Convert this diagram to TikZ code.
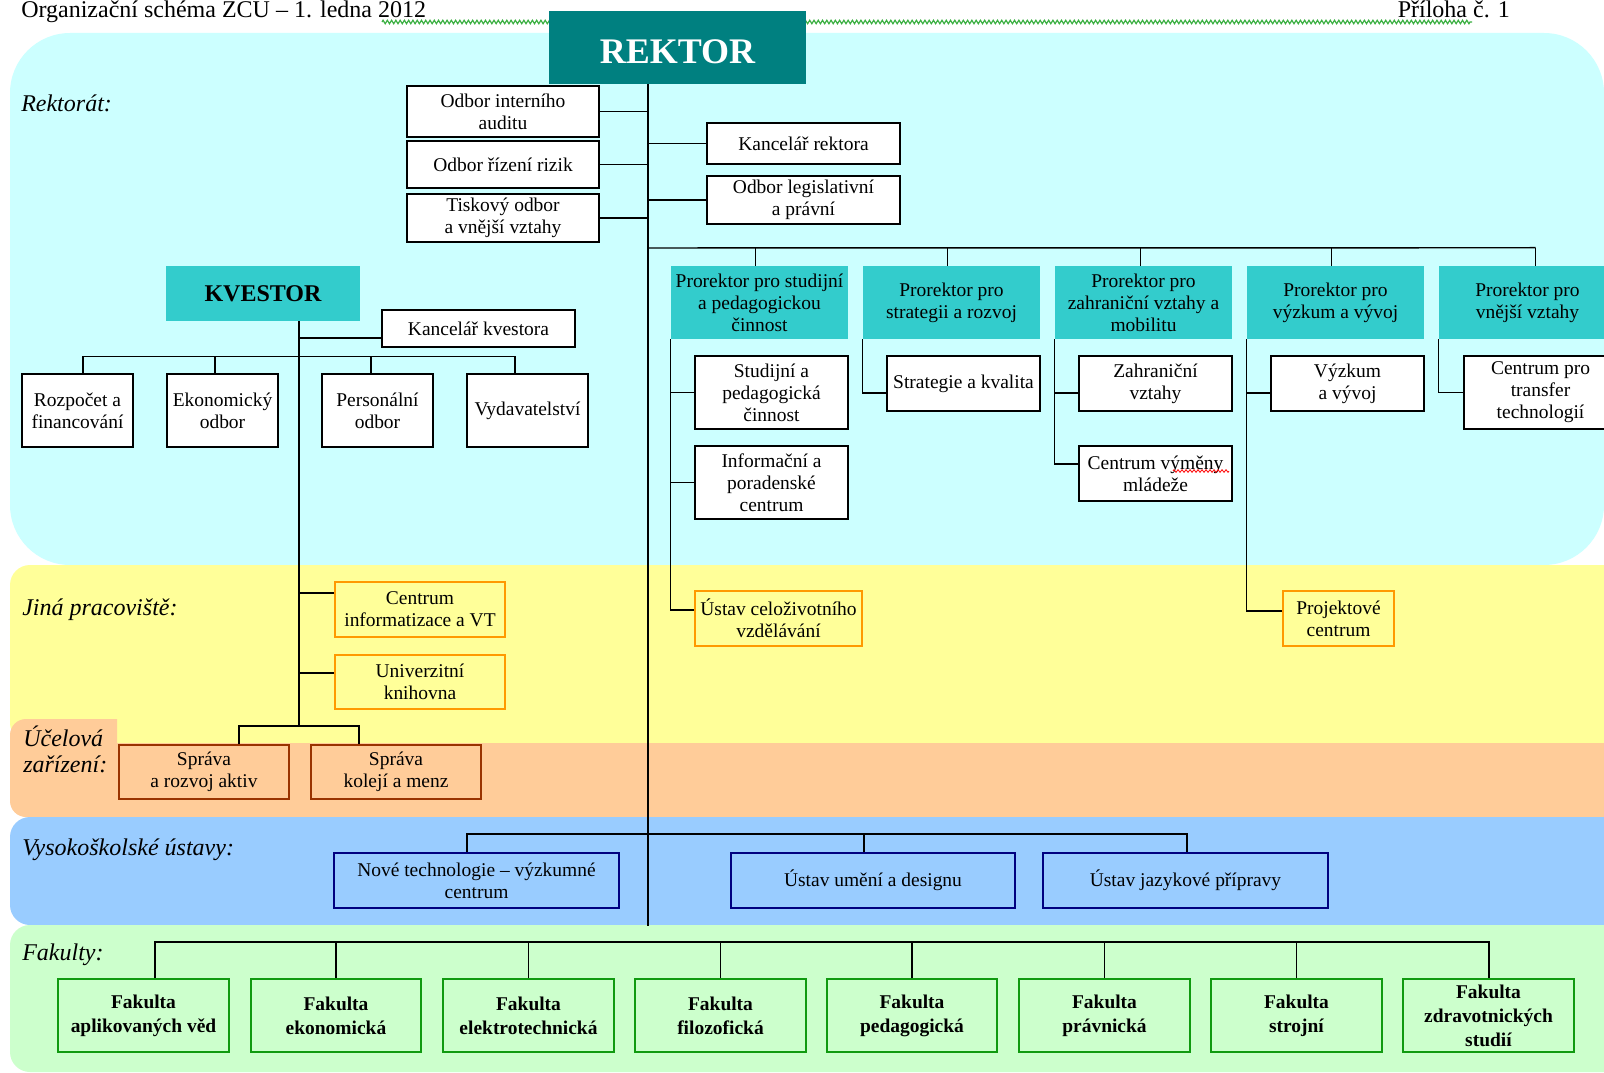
\documentclass[tikz,border=0pt]{standalone}
\usepackage{fontspec}
\setmainfont{Liberation Serif}
\usetikzlibrary{calc,decorations.pathmorphing}
\definecolor{bcyan}{HTML}{CCFFFF}
\definecolor{byellow}{HTML}{FFFF99}
\definecolor{borange}{HTML}{FFCC99}
\definecolor{bblue}{HTML}{99CCFF}
\definecolor{bgreen}{HTML}{CCFFCC}
\definecolor{tealA}{HTML}{008080}
\definecolor{tealB}{HTML}{33CCCC}
\definecolor{orbd}{HTML}{FF9900}
\definecolor{brbd}{HTML}{993300}
\definecolor{nvbd}{HTML}{000080}
\definecolor{grbd}{HTML}{109A10}
\definecolor{sqgreen}{HTML}{3CB043}
\newcommand\bx[7]{\node[#6, minimum width={(#4-#2)*0.75pt}, minimum height={(#5-#3)*0.75pt}] (#1) at ({(#2+#4)/2},{(#3+#5)/2}) {#7};}
\tikzset{
  bxbase/.style={inner sep=0pt, align=center, font=\fontsize{14.6}{16.5}\selectfont},
  wbox/.style={bxbase, draw=black, fill=white, line width=1.1pt},
  prbox/.style={bxbase, fill=tealB},
  kvbox/.style={inner sep=0pt, fill=tealB, font=\bfseries\fontsize{18}{20}\selectfont},
  rekbox/.style={inner sep=0pt, fill=tealA, text=white, font=\bfseries\fontsize{27}{30}\selectfont, text height=24.5pt, text depth=0pt},
  jbox/.style={bxbase, draw=orbd, fill=byellow, line width=1.3pt},
  sprbox/.style={bxbase, draw=brbd, fill=borange, line width=1.3pt},
  vsbox/.style={bxbase, draw=nvbd, fill=bblue, line width=1.3pt},
  facbox/.style={bxbase, draw=grbd, fill=bgreen, line width=1.4pt, font=\bfseries\fontsize{14.6}{18}\selectfont},
  conn/.style={line width=1.1pt, black},
  thickconn/.style={line width=1.5pt, black},
  lbl/.style={anchor=base west, inner sep=0pt, font=\itshape\fontsize{18}{19}\selectfont},
  hdr/.style={inner sep=0pt, font=\fontsize{18}{20}\selectfont},
}
\begin{document}
\begin{tikzpicture}[x=0.75pt,y=-0.75pt]
\useasboundingbox (0,0) rectangle (1604,1073);
\clip (0,0) rectangle (1604,1073);
\fill[white] (0,0) rectangle (1604,1073);
% bands
\fill[bcyan, rounded corners=45pt] (10,33) rectangle (1604,565);
\fill[byellow, rounded corners=15pt] (10,565) rectangle (1650,743);
\fill[borange, rounded corners=12pt] (10,743) rectangle (1650,817);
\fill[borange] (117,800) -- (117,719) [rounded corners=12pt] -- (10,719) [sharp corners] -- (10,800) -- cycle;
\fill[bblue, rounded corners=15pt] (10,817) rectangle (1650,925);
\fill[bgreen, rounded corners=15pt] (10,925) rectangle (1650,1072);
% header
\node[hdr, anchor=base west] (title) at (21,18) {Organizační schéma ZCU – 1. ledna 2012};
\node[hdr, anchor=base east] (priloha) at (1510,18) {Příloha č. 1};
\draw[sqgreen, line width=0.9pt, decorate, decoration={zigzag, segment length=3.2pt, amplitude=1.3pt}] (382,22) -- (1472,22);
% section labels
\node[lbl] (lrek) at (21,112) {Rektorát:};
\node[lbl] (ljina) at (22,615) {Jiná pracoviště:};
\node[lbl] (luc1) at (23,746) {Účelová};
\node[lbl] (luc2) at (23,772) {zařízení:};
\node[lbl] (lvs) at (22,855) {Vysokoškolské ústavy:};
\node[lbl] (lfak) at (22,960) {Fakulty:};
% rektor
\bx{rek}{549}{11}{806}{84}{rekbox}{REKTOR}
\bx{audit}{407}{86}{599}{137}{wbox}{Odbor interního\\auditu}
\bx{rizik}{407}{141}{599}{188}{wbox}{Odbor řízení rizik}
\bx{tisk}{407}{194}{599}{242}{wbox}{Tiskový odbor\\a vnější vztahy}
\bx{kancr}{707}{123}{900}{164}{wbox}{Kancelář rektora}
\bx{legis}{707}{176}{900}{224}{wbox}{Odbor legislativní\\a právní}
% prorektori
\bx{p1}{671}{266}{848}{339}{prbox}{Prorektor pro studijní\\a pedagogickou\\činnost}
\bx{p2}{863}{266}{1040}{339}{prbox}{Prorektor pro\\strategii a rozvoj}
\bx{p3}{1055}{266}{1232}{339}{prbox}{Prorektor pro\\zahraniční vztahy a\\mobilitu}
\bx{p4}{1247}{266}{1424}{339}{prbox}{Prorektor pro\\výzkum a vývoj}
\bx{p5}{1439}{266}{1616}{339}{prbox}{Prorektor pro\\vnější vztahy}
\bx{stud}{695}{356}{848}{429}{wbox}{Studijní a\\pedagogická\\činnost}
\bx{info}{695}{446}{848}{519}{wbox}{Informační a\\poradenské\\centrum}
\bx{strat}{887}{356}{1040}{411}{wbox}{Strategie a kvalita}
\bx{zahr}{1079}{356}{1232}{411}{wbox}{Zahraniční\\vztahy}
\bx{cvm}{1079}{446}{1232}{501}{wbox}{Centrum výměny\\mládeže}
\bx{vyz}{1271}{356}{1424}{411}{wbox}{Výzkum\\a vývoj}
\bx{trans}{1464}{356}{1617}{429}{wbox}{Centrum pro\\transfer\\technologií}
% kvestor
\bx{kv}{166}{266}{360}{321}{kvbox}{KVESTOR}
\bx{kanck}{382}{310}{575}{347}{wbox}{Kancelář kvestora}
\bx{rozp}{22}{374}{133}{447}{wbox}{Rozpočet a\\financování}
\bx{ekon}{167}{374}{278}{447}{wbox}{Ekonomický\\odbor}
\bx{pers}{322}{374}{433}{447}{wbox}{Personální\\odbor}
\bx{vyd}{467}{374}{588}{447}{wbox}{Vydavatelství}
% jina pracoviste
\bx{cinf}{335}{582}{505}{637}{jbox}{Centrum\\informatizace a VT}
\bx{knih}{335}{655}{505}{709}{jbox}{Univerzitní\\knihovna}
\bx{ustav}{695}{591}{862}{646}{jbox}{Ústav celoživotního\\vzdělávání}
\bx{proj}{1283}{591}{1394}{646}{jbox}{Projektové\\centrum}
% ucelova zarizeni
\bx{spr1}{119}{745}{289}{799}{sprbox}{Správa\\a rozvoj aktiv}
\bx{spr2}{311}{745}{481}{799}{sprbox}{Správa\\kolejí a menz}
% vysokoskolske ustavy
\bx{nt}{334}{853}{619}{908}{vsbox}{Nové technologie – výzkumné\\centrum}
\bx{uu}{731}{853}{1015}{908}{vsbox}{Ústav umění a designu}
\bx{uj}{1043}{853}{1328}{908}{vsbox}{Ústav jazykové přípravy}
% fakulty
\bx{f1}{58}{979}{229}{1052}{facbox}{Fakulta\\aplikovaných věd}
\bx{f2}{251}{979}{421}{1052}{facbox}{Fakulta\\ekonomická}
\bx{f3}{443}{979}{614}{1052}{facbox}{Fakulta\\elektrotechnická}
\bx{f4}{635}{979}{806}{1052}{facbox}{Fakulta\\filozofická}
\bx{f5}{827}{979}{997}{1052}{facbox}{Fakulta\\pedagogická}
\bx{f6}{1019}{979}{1190}{1052}{facbox}{Fakulta\\právnická}
\bx{f7}{1211}{979}{1382}{1052}{facbox}{Fakulta\\strojní}
\bx{f8}{1403}{979}{1574}{1052}{facbox}{Fakulta\\zdravotnických\\studií}
\draw[red, line width=0.6pt, decorate, decoration={zigzag, segment length=3pt, amplitude=1pt}] (1173,471) -- (1229,471);
% ---- connectors: rektor
\coordinate (mtop) at ($(rek.south)+(-29.5,0)$);
\coordinate (mbot) at (648,926);
\draw[conn] (mtop) -- (mbot);
\foreach \n in {audit,rizik,tisk} \draw[conn] (\n.east) -- (\n.east -| mtop);
\foreach \n in {kancr,legis} \draw[conn] (\n.west) -- (\n.west -| mtop);
\coordinate (ph) at (648,248);
\draw[conn] (ph) -- ($(p5.north)+(8,-18)$);
\draw[conn] ($(p1.north)+(-4,0)$) -- ++(0,-18);
\draw[conn] ($(p2.north)+(-4,0)$) -- ++(0,-18);
\draw[conn] ($(p3.north)+(-3,0)$) -- ++(0,-18);
\draw[conn] ($(p4.north)+(-4,0)$) -- ++(0,-18);
\draw[conn] ($(p5.north)+(8,0)$) -- ++(0,-18);
% prorektor sub-lines
\draw[conn] (p1.south west) |- ($(ustav.west)+(0,-8.5)$);
\draw[conn] (stud.west) -- (stud.west -| p1.south west);
\draw[conn] (info.west) -- (info.west -| p1.south west);
\draw[conn] (p2.south west) |- ($(strat.west)+(0,9.5)$);
\draw[conn] (p3.south west) |- ($(cvm.west)+(0,-9.5)$);
\coordinate (zc) at ($(zahr.west)+(0,9.5)$);
\draw[conn] (zc) -- (zc -| p3.south west);
\draw[conn] (p4.south west) |- ($(proj.west)+(0,-7.5)$);
\coordinate (vc) at ($(vyz.west)+(0,9.5)$);
\draw[conn] (vc) -- (vc -| p4.south west);
\draw[conn] (p5.south west) |- (trans.west);
% ---- connectors: kvestor
\coordinate (ktop) at ($(kv.south)+(36,0)$);
\coordinate (kbot) at (299,727);
\draw[conn] (ktop) -- (kbot);
\coordinate (kkc) at ($(kanck.west)+(0,9.5)$);
\draw[conn] (kkc) -- (kkc -| ktop);
\draw[conn] ($(rozp.north)+(5.5,0)$) -- ++(0,-17) -- ($(vyd.north)+(-12.5,-17)$) -- ++(0,17);
\draw[conn] ($(ekon.north)+(-7.5,0)$) -- ++(0,-17);
\draw[conn] ($(pers.north)+(-6.5,0)$) -- ++(0,-17);
\coordinate (cic) at ($(cinf.west)+(0,-16.5)$);
\draw[conn] (cic) -- (cic -| ktop);
\coordinate (knc) at ($(knih.west)+(0,-9)$);
\draw[conn] (knc) -- (knc -| ktop);
\draw[conn] ($(spr1.north)+(35,0)$) -- ++(0,-18) -- ($(spr2.north)+(-37,-18)$) -- ++(0,18);
% ---- connectors: VS ustavy
\draw[thickconn] ($(nt.north)+(-9.5,0)$) -- ++(0,-18) -- ($(uj.north)+(1.5,-18)$) -- ++(0,18);
\draw[conn] ($(uu.north)+(-9,0)$) -- ++(0,-18);
% ---- connectors: fakulty
\draw[thickconn] ($(f1.north)+(11.5,0)$) -- ++(0,-36) -- ($(f8.north)+(0,-36)$) -- (f8.north);
\foreach \n in {f2,f3,f4,f5,f6,f7} \draw[conn] (\n.north) -- ++(0,-36);
\end{tikzpicture}
\end{document}
